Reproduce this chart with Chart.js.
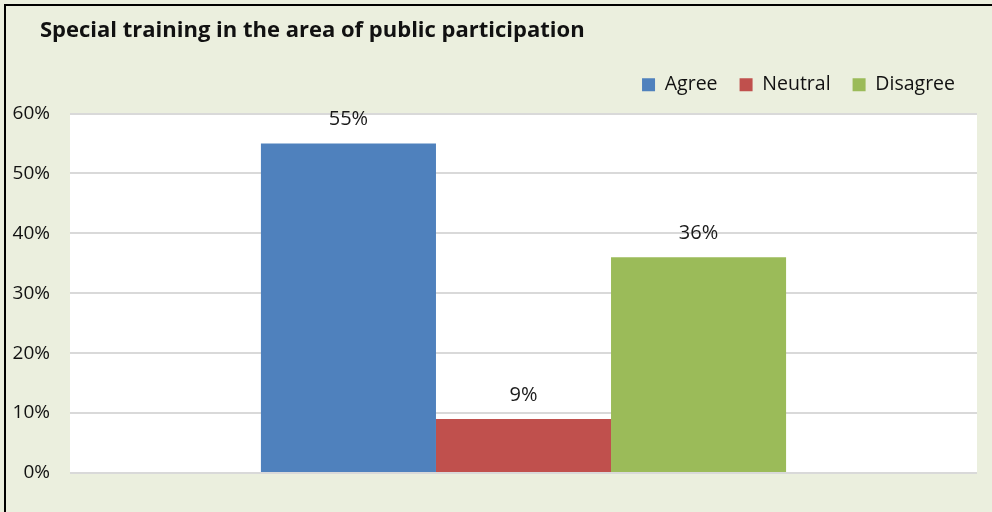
<!DOCTYPE html>
<html>
<head>
<meta charset="utf-8">
<script src="https://cdn.jsdelivr.net/npm/chart.js@4/dist/chart.umd.min.js"></script>
<style>
  html, body { margin: 0; padding: 0; background: #EBEFDE; }
  #wrap { position: relative; width: 992px; height: 512px; }
</style>
</head>
<body>
<div id="wrap"><canvas id="c" width="992" height="512"></canvas></div>
<script>
const categories = [''];
const seriesNames = ['Agree', 'Neutral', 'Disagree'];
const agree = [55];
const neutral = [9];
const disagree = [36];
const yTicks = [0, 10, 20, 30, 40, 50, 60];
const colors = ['#4F81BD', '#C0504D', '#9BBB59'];
const titleText = 'Special training in the area of public participation';

const FONT = "'Open Sans', 'Noto Sans', sans-serif";

// Frame, page background, white plot area and the chart title
const framePlugin = {
  id: 'frame',
  afterInit(chart) {
    // leave a little extra room between the legend and the plot area
    const lg = chart.legend;
    if (lg && !lg._spaced) {
      const fit = lg.fit.bind(lg);
      lg.fit = function () { fit(); this.height += 9; };
      lg._spaced = true;
    }
  },
  beforeDraw(chart) {
    const { ctx, chartArea: a } = chart;
    ctx.save();
    ctx.fillStyle = '#EBEFDE';
    ctx.fillRect(0, 0, chart.width, chart.height);
    ctx.fillStyle = '#FFFFFF';
    ctx.fillRect(a.left, a.top, a.right - a.left, a.bottom - a.top);
    ctx.strokeStyle = '#000000';
    ctx.lineWidth = 2;
    ctx.beginPath();
    ctx.moveTo(5, chart.height);
    ctx.lineTo(5, 5);
    ctx.lineTo(chart.width, 5);
    ctx.stroke();
    ctx.fillStyle = '#111111';
    ctx.font = "bold 22px " + FONT;
    ctx.textAlign = 'left';
    ctx.textBaseline = 'middle';
    ctx.fillText(titleText, 40, 31);
    ctx.restore();
  }
};

// Percentage labels above each bar
const valueLabels = {
  id: 'valueLabels',
  afterDatasetsDraw(chart) {
    const { ctx } = chart;
    ctx.save();
    ctx.font = "20px " + FONT;
    ctx.fillStyle = '#1a1a1a';
    ctx.textAlign = 'center';
    ctx.textBaseline = 'middle';
    chart.data.datasets.forEach((ds, i) => {
      chart.getDatasetMeta(i).data.forEach((bar, j) => {
        ctx.fillText(ds.data[j] + '%', bar.x, bar.y - 24);
      });
    });
    ctx.restore();
  }
};

const values = [agree, neutral, disagree];
new Chart(document.getElementById('c'), {
  type: 'bar',
  data: {
    labels: categories,
    datasets: seriesNames.map((name, i) => ({
      label: name,
      data: values[i],
      backgroundColor: colors[i],
      borderWidth: 0,
      barPercentage: 1,
      categoryPercentage: 0.579
    }))
  },
  options: {
    responsive: false,
    animation: false,
    layout: { padding: { left: 12, right: 15, top: 53, bottom: 39 } },
    plugins: {
      title: { display: false },
      legend: {
        position: 'top',
        align: 'end',
        labels: {
          color: '#111111',
          font: { family: FONT, size: 19.5 },
          boxWidth: 13,
          boxHeight: 13,
          padding: 22
        }
      },
      tooltip: { enabled: false }
    },
    scales: {
      x: {
        grid: { display: false, drawTicks: false },
        border: { display: false },
        ticks: { display: false }
      },
      y: {
        min: 0,
        max: 60,
        afterBuildTicks(axis) { axis.ticks = yTicks.map(v => ({ value: v })); },
        afterFit(axis) { axis.width = 58; },
        grid: { color: '#D9D9D9', lineWidth: 2, drawTicks: false },
        border: { display: false },
        ticks: {
          color: '#111111',
          font: { family: FONT, size: 19 },
          padding: 20,
          callback: v => v + '%'
        }
      }
    }
  },
  plugins: [framePlugin, valueLabels]
});
</script>
</body>
</html>
